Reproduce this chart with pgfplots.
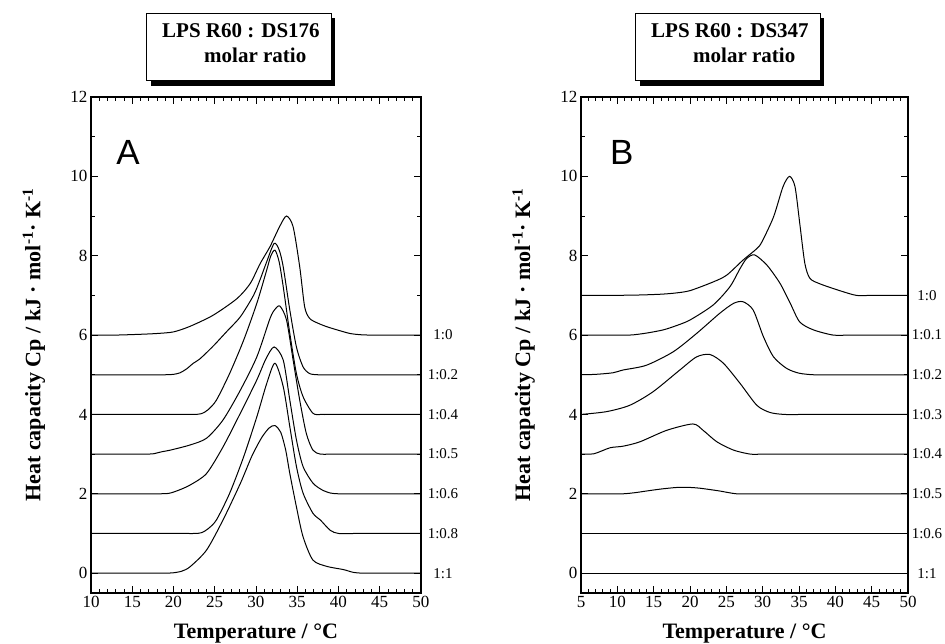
\documentclass[border=0pt]{standalone}
\usepackage{fontspec}
\setmainfont{Liberation Serif}
\setsansfont{Liberation Sans}
\usepackage{pgfplots}
\pgfplotsset{compat=1.18}

\newcommand{\boxfont}{\fontsize{21bp}{23bp}\selectfont\bfseries}
\newcommand{\ratiofont}{\fontsize{15bp}{15bp}\selectfont}
\tikzset{rl/.style={font=\ratiofont, xshift=#1}}

\pgfplotsset{
  dsc/.style={
    scale only axis, height=496bp,
    ymin=-0.5, ymax=12,
    ytick={0,2,...,12}, minor y tick num=1,
    minor x tick num=4,
    tick align=inside,
    xtick pos=both, ytick pos=both,
    xticklabel pos=lower, yticklabel pos=left,
    major tick length=7bp, minor tick length=4bp,
    axis line style={line width=1.3bp},
    every tick/.style={black, line width=0.8bp},
    /pgf/number format/assume math mode=true,
    tick label style={font=\fontsize{17bp}{17bp}\selectfont},
    label style={font=\fontsize{22bp}{24bp}\selectfont\bfseries},
    xlabel={Temperature / °C},
    ylabel={Heat capacity Cp / kJ · mol\textsuperscript{-1}· K\textsuperscript{-1}},
    clip=false,
    cycle list={{black,solid,mark=none}},
    every axis plot/.append style={line width=1.0bp, smooth, tension=0.45},
  },
}

\begin{document}
\begin{tikzpicture}
\path[use as bounding box] (0,0) rectangle (945bp,644bp);

% ---------------- panel A ----------------
\begin{axis}[dsc,
  at={(91bp,51bp)}, anchor=south west, width=330bp,
  xmin=10, xmax=50, xtick={10,15,...,50},
  xlabel style={at={(axis description cs:0.5,-0.081)}, anchor=center},
  ylabel style={at={(axis description cs:-0.173,0.5)}, anchor=center},
]
% 1:0
\addplot coordinates {(10,6) (13,6.0) (16,6.02) (18,6.04) (20,6.08) (22,6.22) (24.8,6.5) (27.7,6.92) (29.3,7.3) (30.5,7.8) (31.7,8.23) (32.9,8.75) (33.7,9.0) (34.5,8.73) (35.3,7.72) (35.9,6.71) (36.5,6.42) (37.5,6.3) (38.6,6.21) (40,6.12) (41.4,6.04) (42.6,6.01) (43.8,6.0) (46,6) (50,6)};
% 1:0.2
\addplot coordinates {(10,5) (14,5) (17,5) (19,5) (20,5.01) (20.8,5.05) (21.6,5.15) (22.4,5.29) (23.2,5.4) (24.8,5.72) (26.5,6.1) (28.1,6.46) (29.7,7.0) (30.5,7.4) (31.3,7.85) (32.2,8.31) (32.8,8.15) (33.3,7.72) (34.1,6.63) (34.9,5.70) (35.7,5.2) (36.5,5.03) (37.5,5.0) (39,5) (42,5) (46,5) (50,5)};
% 1:0.4
\addplot coordinates {(10,4) (15,4) (19,4) (21,4) (22.5,4) (23.4,4.02) (24.2,4.12) (25.2,4.36) (26.8,5.03) (28.5,5.87) (30.1,6.80) (31.3,7.64) (31.8,8.0) (32.3,8.14) (32.8,7.85) (33.3,7.22) (34.1,6.04) (34.9,5.03) (35.7,4.45) (36.9,4.03) (38,4.0) (39.5,4) (42,4) (46,4) (50,4)};
% 1:0.5
\addplot coordinates {(10,3) (13,3) (15.5,3) (17,3) (17.6,3.01) (18.6,3.06) (19.6,3.1) (22,3.23) (24,3.40) (26,3.86) (28.1,4.61) (30.1,5.45) (31.7,6.42) (32.3,6.65) (32.9,6.73) (33.7,6.38) (34.5,5.37) (35.3,4.36) (36.1,3.52) (36.9,3.1) (37.8,3.0) (39,3) (42,3) (46,3) (50,3)};
% 1:0.6
\addplot coordinates {(10,2) (13,2) (16,2) (18,2) (19.4,2.01) (20.5,2.08) (22,2.22) (24,2.51) (26,3.18) (28.1,4.03) (30.1,4.87) (31.2,5.4) (32.2,5.70) (33.3,5.37) (34.1,4.36) (34.9,3.36) (35.7,2.69) (36.9,2.27) (38,2.1) (39,2.02) (40,2.0) (42,2) (46,2) (50,2)};
% 1:0.8
\addplot coordinates {(10,1) (15,1) (19,1) (21.5,1) (22.6,1) (23.4,1.02) (24.2,1.12) (25.2,1.34) (26.8,2.01) (28.5,2.93) (30.1,3.94) (31.3,4.78) (32.3,5.29) (33.3,4.70) (34.1,3.69) (34.9,2.69) (35.7,2.02) (36.9,1.51) (37.8,1.34) (39,1.08) (40,1.0) (42,1) (46,1) (50,1)};
% 1:1
\addplot coordinates {(10,0) (14,0) (17,0) (19,0) (20,0.01) (21,0.05) (22,0.16) (24,0.58) (26,1.34) (28.1,2.26) (29.5,2.95) (30.7,3.42) (31.6,3.66) (32.3,3.72) (33.0,3.55) (33.6,3.1) (34.1,2.51) (34.9,1.67) (35.7,0.92) (36.9,0.33) (38.6,0.17) (40.6,0.09) (41.8,0.02) (43,0) (46,0) (50,0)};
\node[font=\fontsize{35bp}{35bp}\selectfont\sffamily] at (axis cs:14.5,10.6) {A};
\node[rl=22bp] at (axis cs:50,6) {1:0};
\node[rl=22bp] at (axis cs:50,5) {1:0.2};
\node[rl=22bp] at (axis cs:50,4) {1:0.4};
\node[rl=22bp] at (axis cs:50,3) {1:0.5};
\node[rl=22bp] at (axis cs:50,2) {1:0.6};
\node[rl=22bp] at (axis cs:50,1) {1:0.8};
\node[rl=22bp] at (axis cs:50,0) {1:1};
\end{axis}

% ---------------- panel B ----------------
\begin{axis}[dsc,
  at={(581bp,51bp)}, anchor=south west, width=327bp,
  xmin=5, xmax=50, xtick={5,10,...,50},
  xlabel style={at={(axis description cs:0.5,-0.081)}, anchor=center},
  ylabel style={at={(axis description cs:-0.175,0.5)}, anchor=center},
]
% 1:0
\addplot coordinates {(5,7) (9,7) (13,7.01) (16,7.03) (18,7.06) (20,7.12) (23.2,7.34) (25.05,7.51) (27.3,7.89) (29.2,8.18) (29.9,8.35) (31.5,8.98) (32.8,9.74) (33.7,10.0) (34.45,9.74) (35.1,8.82) (35.8,7.81) (36.5,7.43) (37.9,7.29) (40.6,7.12) (42.9,7.0) (45,7) (50,7)};
% 1:0.1
\addplot coordinates {(5,6) (8,6) (11.7,6.0) (14,6.05) (16.3,6.13) (18,6.23) (20,6.38) (23.2,6.76) (25.5,7.22) (26.9,7.68) (27.8,7.93) (28.9,8.02) (30.6,7.76) (32.4,7.30) (33.8,6.80) (35.1,6.33) (37,6.13) (39.7,6.0) (42,6) (46,6) (50,6)};
% 1:0.2
\addplot coordinates {(5,5) (7,5.01) (9.4,5.05) (10.8,5.12) (14,5.24) (17.7,5.58) (20.9,6.04) (24.1,6.55) (26,6.80) (27.3,6.84) (28.7,6.63) (30.1,5.96) (31.5,5.45) (33.3,5.16) (35,5.04) (37,5.0) (40,5) (44,5) (50,5)};
% 1:0.3
\addplot coordinates {(5,4) (8.5,4.07) (11.7,4.23) (14.9,4.57) (18.6,5.12) (20.9,5.45) (22.75,5.51) (24.6,5.29) (26.9,4.78) (29.2,4.23) (31,4.05) (33,4.0) (36,4) (40,4) (45,4) (50,4)};
% 1:0.4
\addplot coordinates {(5,3) (6.8,3.01) (9,3.16) (10.8,3.2) (13.1,3.31) (16.8,3.60) (20.4,3.76) (21.8,3.60) (23.7,3.31) (26,3.1) (28.3,3.0) (30,3) (33,3) (37,3) (42,3) (50,3)};
% 1:0.5
\addplot coordinates {(5,2) (8,2) (10.8,2.0) (12.5,2.03) (14,2.07) (16,2.12) (18.2,2.16) (20,2.16) (21.4,2.14) (23,2.1) (24.1,2.07) (25.3,2.03) (26.4,2.0) (28,2) (31,2) (35,2) (40,2) (50,2)};
% 1:0.6
\addplot coordinates {(5,1) (50,1)};
% 1:1
\addplot coordinates {(5,0) (50,0)};
\node[font=\fontsize{35bp}{35bp}\selectfont\sffamily] at (axis cs:10.6,10.6) {B};
\node[rl=19bp] at (axis cs:50,7) {1:0};
\node[rl=19bp] at (axis cs:50,6) {1:0.1};
\node[rl=19bp] at (axis cs:50,5) {1:0.2};
\node[rl=19bp] at (axis cs:50,4) {1:0.3};
\node[rl=19bp] at (axis cs:50,3) {1:0.4};
\node[rl=19bp] at (axis cs:50,2) {1:0.5};
\node[rl=19bp] at (axis cs:50,1) {1:0.6};
\node[rl=19bp] at (axis cs:50,0) {1:1};
\end{axis}

% ---------------- title boxes ----------------
\fill[black] (151bp,558bp) rectangle (335bp,626bp);
\draw[fill=white, line width=0.8bp] (146bp,564bp) rectangle (331bp,631bp);
\node[anchor=base west, inner sep=0pt, font=\boxfont] at (162bp,606bp) {LPS R60 : DS176};
\node[anchor=base west, inner sep=0pt, font=\boxfont] at (204bp,581bp) {molar ratio};

\fill[black] (640bp,558bp) rectangle (824bp,626bp);
\draw[fill=white, line width=0.8bp] (635bp,564bp) rectangle (820bp,631bp);
\node[anchor=base west, inner sep=0pt, font=\boxfont] at (651bp,606bp) {LPS R60 : DS347};
\node[anchor=base west, inner sep=0pt, font=\boxfont] at (693bp,581bp) {molar ratio};
\end{tikzpicture}
\end{document}
